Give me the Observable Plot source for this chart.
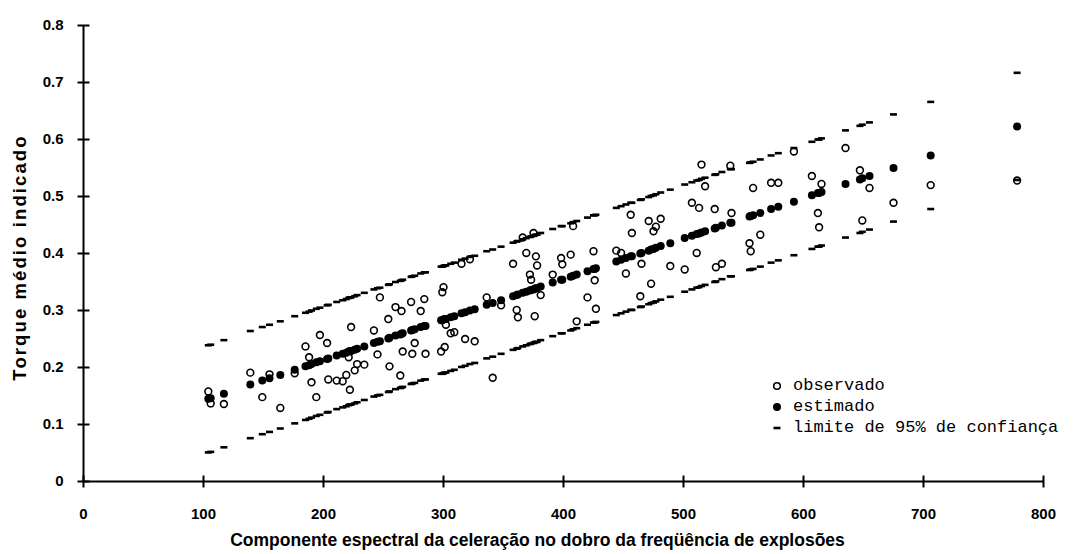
<!DOCTYPE html>
<html>
<head>
<meta charset="utf-8">
<script src="https://cdn.jsdelivr.net/npm/d3@7"></script>
<script src="https://cdn.jsdelivr.net/npm/@observablehq/plot@0.6"></script>
<style>
  html, body { margin: 0; padding: 0; background: #fff; }
  #wrap { position: relative; width: 1075px; height: 554px; }
  #legend { position: absolute; left: 770px; top: 375px; font-family: "Liberation Mono", "DejaVu Sans Mono", monospace; font-size: 17px; color: #000; line-height: 21px; }
  #legend .row { display: flex; align-items: center; white-space: pre; }
  #legend svg { width: 14px; height: 14px; margin-right: 9px; }
</style>
</head>
<body>
<div id="wrap"><div id="chart"></div>
<div id="legend">
  <div class="row"><svg viewBox="-7 -7 14 14"><circle r="3.3" fill="none" stroke="#000" stroke-width="1.6"/></svg><span>observado</span></div>
  <div class="row"><svg viewBox="-7 -7 14 14"><circle r="4" fill="#000"/></svg><span>estimado</span></div>
  <div class="row"><svg viewBox="-7 -7 14 14"><rect x="-3.5" y="-1.3" width="7" height="2.6" fill="#000"/></svg><span>limite de 95% de confiança</span></div>
</div>
</div>
<script>
// Component values (x) for each observation
const xValues = [104,106,117,139,149,155,164,176,185,188, 190,194,197,203,204,211,216,219,221,222,
  223,226,228,234,242,245,247,254,255,260, 264,265,266,273,274,276,281,284,285,298,
  299,300,301,302,306,309,315,318,322,326, 336,341,348,358,361,362,366,369,372,373,
  375,376,377,378,381,391,398,399,406,408, 411,420,425,426,427,444,448,452,456,457,
  464,465,471,473,475,477,481,489,501,507, 511,513,515,518,526,527,532,539,540,555,
  556,558,564,573,579,592,607,612,613,615, 635,647,649,655,675,706,778];

// Observed torque
const observed = [0.158,0.137,0.136,0.191,0.148,0.188,0.129,0.190,0.237,0.218,
  0.174,0.148,0.257,0.243,0.179,0.177,0.176,0.187,0.218,0.161,
  0.271,0.195,0.206,0.205,0.265,0.223,0.323,0.285,0.202,0.306,
  0.186,0.299,0.228,0.315,0.224,0.243,0.299,0.320,0.224,0.228,
  0.332,0.341,0.236,0.275,0.260,0.262,0.382,0.250,0.390,0.246,
  0.323,0.182,0.309,0.382,0.301,0.288,0.428,0.401,0.363,0.354,
  0.436,0.290,0.395,0.379,0.327,0.363,0.392,0.381,0.398,0.448,
  0.281,0.323,0.404,0.353,0.303,0.405,0.401,0.365,0.468,0.436,
  0.325,0.382,0.457,0.347,0.439,0.447,0.461,0.378,0.372,0.489,
  0.401,0.480,0.556,0.518,0.478,0.376,0.382,0.554,0.471,0.418,
  0.404,0.515,0.433,0.524,0.524,0.579,0.536,0.471,0.446,0.522,
  0.585,0.546,0.458,0.515,0.489,0.520,0.528];

// Estimated torque
const estimated = [0.145,0.146,0.154,0.170,0.177,0.181,0.187,0.196,0.202,0.204,
  0.206,0.209,0.211,0.215,0.216,0.221,0.224,0.226,0.228,0.229,
  0.229,0.231,0.233,0.237,0.243,0.245,0.246,0.251,0.252,0.256,
  0.258,0.259,0.260,0.265,0.266,0.267,0.271,0.273,0.273,0.283,
  0.283,0.284,0.285,0.285,0.288,0.290,0.295,0.297,0.300,0.302,
  0.310,0.313,0.318,0.325,0.327,0.328,0.331,0.333,0.335,0.336,
  0.337,0.338,0.339,0.339,0.342,0.349,0.354,0.354,0.359,0.361,
  0.363,0.369,0.373,0.373,0.374,0.386,0.389,0.392,0.395,0.395,
  0.400,0.401,0.405,0.407,0.408,0.410,0.413,0.418,0.427,0.431,
  0.434,0.435,0.437,0.439,0.444,0.445,0.449,0.454,0.454,0.465,
  0.466,0.467,0.471,0.478,0.482,0.491,0.502,0.506,0.506,0.508,
  0.522,0.530,0.532,0.536,0.550,0.572,0.623];

// Upper 95% confidence limit
const upperLimit = [0.239,0.240,0.248,0.264,0.271,0.275,0.281,0.290,0.296,0.298,
  0.300,0.303,0.305,0.309,0.310,0.315,0.318,0.320,0.322,0.323,
  0.323,0.325,0.327,0.331,0.337,0.339,0.340,0.345,0.346,0.350,
  0.352,0.353,0.354,0.359,0.360,0.361,0.365,0.367,0.367,0.377,
  0.377,0.378,0.379,0.379,0.382,0.384,0.389,0.391,0.394,0.396,
  0.404,0.407,0.412,0.419,0.421,0.422,0.425,0.427,0.429,0.430,
  0.431,0.432,0.433,0.433,0.436,0.443,0.448,0.448,0.453,0.455,
  0.457,0.463,0.467,0.467,0.468,0.480,0.483,0.486,0.489,0.489,
  0.494,0.495,0.499,0.501,0.502,0.504,0.507,0.512,0.521,0.525,
  0.528,0.529,0.531,0.533,0.538,0.539,0.543,0.548,0.548,0.559,
  0.560,0.561,0.565,0.572,0.576,0.585,0.596,0.600,0.600,0.602,
  0.616,0.624,0.626,0.630,0.644,0.666,0.717];

// Lower 95% confidence limit
const lowerLimit = [0.051,0.052,0.060,0.076,0.083,0.087,0.093,0.102,0.108,0.110,
  0.112,0.115,0.117,0.121,0.122,0.127,0.130,0.132,0.134,0.135,
  0.135,0.137,0.139,0.143,0.149,0.151,0.152,0.157,0.158,0.162,
  0.164,0.165,0.166,0.171,0.172,0.173,0.177,0.179,0.179,0.189,
  0.189,0.190,0.191,0.191,0.194,0.196,0.201,0.203,0.206,0.208,
  0.216,0.219,0.224,0.231,0.233,0.234,0.237,0.239,0.241,0.242,
  0.243,0.244,0.245,0.245,0.248,0.255,0.260,0.260,0.265,0.267,
  0.269,0.275,0.279,0.279,0.280,0.292,0.295,0.298,0.301,0.301,
  0.306,0.307,0.311,0.313,0.314,0.316,0.319,0.324,0.333,0.337,
  0.340,0.341,0.343,0.345,0.350,0.351,0.355,0.360,0.360,0.371,
  0.372,0.373,0.377,0.384,0.388,0.397,0.408,0.412,0.412,0.414,
  0.428,0.436,0.438,0.442,0.456,0.478,0.529];

const xTicks = [0,100,200,300,400,500,600,700,800];
const yTicks = [0,0.1,0.2,0.3,0.4,0.5,0.6,0.7,0.8];
const xTitle = "Componente espectral da celeração no dobro da freqüência de explosões";
const yTitle = "Torque médio indicado";

const rows = xValues.map((x, i) => ({x, obs: observed[i], est: estimated[i], upper: upperLimit[i], lower: lowerLimit[i]}));

const rectSymbol = (w, h) => ({
  draw(ctx) {
    ctx.moveTo(-w / 2, -h / 2); ctx.lineTo(w / 2, -h / 2); ctx.lineTo(w / 2, h / 2); ctx.lineTo(-w / 2, h / 2); ctx.closePath();
  }
});
const dashSymbol = rectSymbol(7, 2.6);
const vTick = rectSymbol(2, 12);
const hTick = rectSymbol(12, 2);

const font = '"Liberation Sans Narrow", "Liberation Sans", Arial, sans-serif';

const chart = Plot.plot({
  width: 1075,
  height: 554,
  marginLeft: 83,
  marginRight: 32,
  marginTop: 25,
  marginBottom: 73,
  style: {fontFamily: font, fontSize: "15px", fontWeight: "bold", color: "#000", background: "#fff"},
  x: {domain: [0, 800]},
  y: {domain: [0, 0.8]},
  marks: [
    Plot.axisX({ticks: xTicks, tickSize: 0, tickPadding: 27, tickFormat: d => String(d), label: null, fontSize: 15}),
    Plot.axisY({ticks: yTicks, tickSize: 0, tickPadding: 20, tickFormat: d => String(d), label: null, fontSize: 15}),
    Plot.text([xTitle], {frameAnchor: "bottom", dy: 64, dx: -26, fontSize: 17.5, fontWeight: "bold", fill: "#000"}),
    Plot.text([yTitle], {frameAnchor: "left", textAnchor: "middle", rotate: -90, dx: -63, dy: 4, fontSize: 18.5, fontWeight: "bold", fill: "#000"}),
    Plot.ruleY([0], {stroke: "#000", strokeWidth: 2}),
    Plot.ruleX([0], {stroke: "#000", strokeWidth: 2}),
    Plot.dot(xTicks, {x: d => d, frameAnchor: "bottom", symbol: vTick, fill: "#000", stroke: "none", r: 6}),
    Plot.dot(yTicks, {y: d => d, frameAnchor: "left", symbol: hTick, fill: "#000", stroke: "none", r: 6}),
    Plot.dot(rows, {x: "x", y: "upper", symbol: dashSymbol, fill: "#000", stroke: "none", r: 3}),
    Plot.dot(rows, {x: "x", y: "lower", symbol: dashSymbol, fill: "#000", stroke: "none", r: 3}),
    Plot.dot(rows, {x: "x", y: "est", r: 4, fill: "#000", stroke: "none"}),
    Plot.dot(rows, {x: "x", y: "obs", r: 3.4, fill: "none", stroke: "#000", strokeWidth: 1.6})
  ]
});
chart.querySelectorAll("text").forEach(t => { if (t.textContent === yTitle) t.style.letterSpacing = "2.1px"; });
document.getElementById("chart").appendChild(chart);
</script>
</body>
</html>
